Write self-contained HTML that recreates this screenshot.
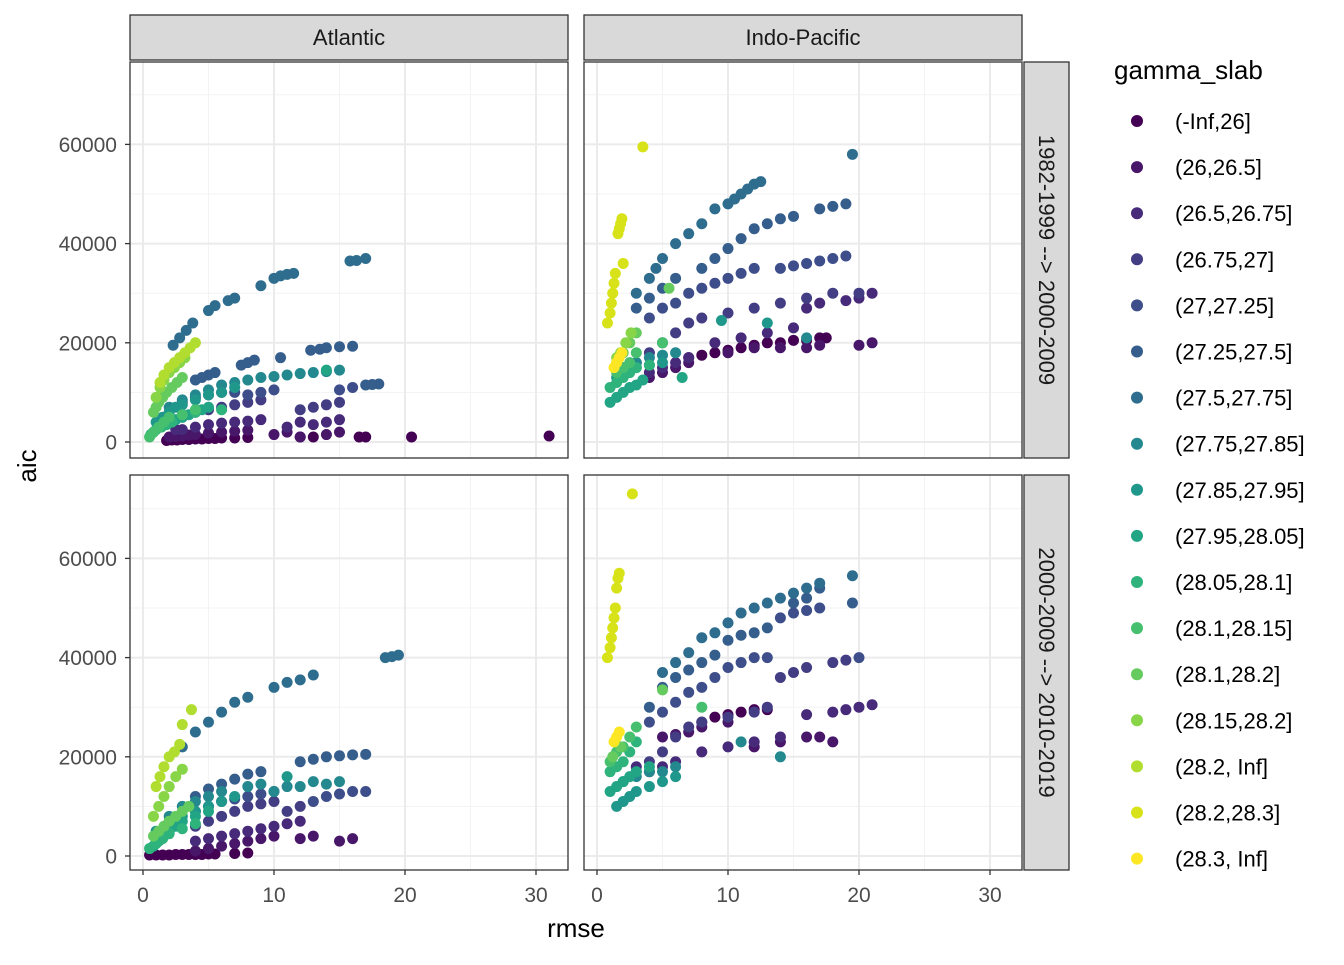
<!DOCTYPE html>
<html><head><meta charset="utf-8"><style>
body{margin:0;background:#fff;}
svg text{font-family:"Liberation Sans",sans-serif;}
</style></head><body>
<svg id="chart" width="1344" height="960" xmlns="http://www.w3.org/2000/svg"></svg>
<script>
const levelLabels=["(-Inf,26]","(26,26.5]","(26.5,26.75]","(26.75,27]","(27,27.25]","(27.25,27.5]","(27.5,27.75]","(27.75,27.85]","(27.85,27.95]","(27.95,28.05]","(28.05,28.1]","(28.1,28.15]","(28.1,28.2]","(28.15,28.2]","(28.2, Inf]","(28.2,28.3]","(28.3, Inf]"];
const levelColors=["#440154","#481769","#472A7A","#433D84","#3D4E8A","#355E8D","#2E6D8E","#297B8E","#23898E","#1F978B","#21A585","#2EB37C","#46C06F","#65CB5E","#89D548","#B0DD2F","#D8E219","#FDE725"];
const xTicks=[0,10,20,30];
const yTicks=[0,20000,40000,60000];
const atlTop=[
[0,[1.8,2.2,2.6,3,3.5,4,4.5,5,5.5,6,7,8,12,13,16.5,17,20.5,31],[300,400,400,500,500,600,600,700,700,800,800,900,1000,1000,1000,1000,1000,1200]],
[1,[2,2.5,3,3.5,4,5,6,7,8,10,11,12,14,15],[1000,1100,1200,1400,1500,1800,2000,2200,2400,1500,2000,1000,1500,2000]],
[2,[2.5,3,4,5,6,7,8,9,11,12,13,14,15],[2500,2500,3000,3500,3800,4000,4200,4500,3000,4000,3500,4000,4500]],
[3,[3,4,5,6,7,8,9,12,13,14,15],[5000,6000,6500,7000,7500,8000,8500,6500,7000,7500,8000]],
[4,[3,4,5,6,7,8,9,10,15,16],[8000,9000,9500,10000,10000,9500,10000,10500,10500,11000]],
[5,[4,4.5,5,5.5,7.5,8,8.5,10.5,12.8,13.5,14,15,16,17,17.5,18],[12500,13000,13500,14000,15500,16000,16500,17000,18500,18700,19000,19200,19300,11500,11600,11700]],
[6,[2.3,2.8,3.3,3.8,5,5.5,6.5,7,9,10,10.5,11,11.5,15.8,16.3,17],[19500,21000,22500,24000,26500,27500,28500,29000,31500,33000,33500,33800,34000,36500,36600,37000]],
[8,[2,3,4,5,6,7,8,9,10,11,12,13,14,15],[7000,8500,9500,10500,11500,12000,12500,13000,13200,13500,13800,14000,14200,14500]],
[9,[1,1.5,2,2.5,3,4,5,6,7],[4000,5000,6000,7000,7500,8500,9500,10000,11000]],
[10,[0.8,1.2,1.6,2,2.5,3,3.5,4,4.5,5,14],[2000,3000,3500,4000,4500,5000,5500,6000,6500,7000,14500]],
[11,[0.6,1,1.4,1.8,2.2,4,6],[1500,2500,3000,3500,4000,6000,6500]],
[12,[0.5,0.8,1.2,1.6,2,3,4],[1000,2000,3000,4000,5000,5500,6500]],
[13,[0.8,1,1.2,1.5,1.8,2.2,2.6,3],[6000,7000,8000,9000,10000,11000,12000,13000]],
[14,[1,1.3,1.6,2,2.4,2.8,3.2],[9000,11000,12500,14000,15000,16000,17000]],
[15,[1.3,1.6,2,2.4,2.8,3.2,3.6,4],[12000,13500,15000,16000,17000,18000,19000,20000]]
];
const indTop=[
[0,[7,8,9,10,11,12,13,14,15,16,17,17.5],[17000,17500,18000,18500,19000,19500,20000,20000,20500,20500,21000,21000]],
[1,[4,5,6,7,10,12,14,16,17,20,21],[13000,14000,15000,16000,18000,19000,19000,19000,19500,19500,20000]],
[2,[4,5,6,7,9,11,13,15,16,17,19,20,21],[14000,15000,16000,17000,20000,21000,22000,23000,27000,28000,28500,29000,30000]],
[3,[3,4,5,6,7,8,10,12,14,16,18,20],[16000,18000,20000,22000,24000,25000,26000,27000,28000,29000,30000,30000]],
[4,[4,5,6,7,8,9,10,11,12,14,15,16,17,18,19],[25000,27000,28000,30000,31000,32000,33000,34000,35000,35000,35500,36000,36500,37000,37500]],
[5,[3,4,5,6,8,9,10,11,12,13,14,15,17,18,19],[27000,29000,31000,33000,35000,37000,39000,41000,43000,44000,45000,45500,47000,47500,48000]],
[6,[3,4,4.5,5,6,7,8,9,10,10.5,11,11.5,12,12.5,19.5],[30000,33000,35000,37000,40000,42000,44000,47000,48000,49000,50000,51000,52000,52500,58000]],
[8,[2,3,4,5,6,16],[15000,16000,17000,17500,18000,21000]],
[9,[1.5,2,2.5,3,4,5,9.5,13],[13000,14000,14500,15000,15500,16000,24500,24000]],
[10,[1,1.5,2,2.5,3,3.5,6.5],[8000,9000,10000,11000,11500,12500,13000]],
[11,[1,1.5,2,2.5,3,4],[11000,12000,13000,14000,15000,15500]],
[12,[1.5,2,2.5,3,5],[14000,15000,16000,18000,20000]],
[13,[1.5,2,2.5,3,5.5],[16000,18000,20000,22000,31000]],
[14,[1.5,1.8,2.2,2.6],[17000,18000,20000,22000]],
[16,[0.8,1,1.1,1.2,1.3,1.4,1.6,1.7,1.8,1.9,2,3.5],[24000,26000,28000,30000,32000,34000,42000,43000,44000,45000,36000,59500]],
[17,[1.3,1.5,1.7,1.9],[15000,16000,17000,18000]]
];
const atlBot=[
[0,[0.5,1,1.5,2,2.5,3,3.5,4,4.5,5,5.5,7,8],[200,200,200,200,300,300,300,300,300,400,400,500,600]],
[1,[4,5,6,7,8,9,10,12,13,15,16],[1000,1500,2000,2500,3000,3500,4000,3500,4000,3000,3500]],
[2,[4,5,6,7,8,9,10,11,12],[3000,3500,4000,4500,5000,5500,6000,6500,7000]],
[3,[4,5,6,7,8,9,10,11,12],[6000,7000,8000,9000,10000,10500,11000,9000,10000]],
[4,[4,5,6,7,8,9,10,13,14,15,16,17],[9000,10000,11000,11500,12000,12500,13000,11000,12000,12500,13000,13000]],
[5,[4,5,6,7,8,9,12,13,14,15,16,17],[12000,13500,14500,15500,16500,17000,19000,19500,20000,20200,20400,20500]],
[6,[3,4,5,6,7,8,10,11,12,13,18.5,19,19.5],[22000,25000,27000,29000,31000,32000,34000,35000,35500,36500,40000,40200,40500]],
[8,[2,3,4,5,6,8,9,10,11,12,13,14,15],[8000,10000,11000,12000,13000,14000,14500,13000,14000,14000,15000,14500,15000]],
[9,[1,2,3,4,5,6,7,11],[5000,7000,8000,9000,10000,11000,12000,16000]],
[10,[0.8,1.2,1.6,2,2.5,3,4,5],[2000,3000,4000,5000,6000,7000,8000,9000]],
[11,[0.5,1,1.5,2,3,4],[1500,2500,3500,4500,5500,6500]],
[13,[0.8,1.2,1.6,2,2.5,3,3.5],[4000,5000,6000,7000,8000,9000,10000]],
[14,[0.8,1.2,1.6,2,2.5,3],[8000,10000,12000,14000,16000,17500]],
[15,[1,1.3,1.6,2,2.4,2.8,3,3.7],[14000,16000,18000,20000,21000,22500,26500,29500]]
];
const indBot=[
[0,[8,9,10,11,12,13],[27000,28000,28500,29000,29500,29500]],
[1,[5,6,7,8,10,12,14,16,17,18],[24000,24500,25000,26000,27000,22000,23000,24000,24000,23000]],
[2,[3,4,5,6,8,10,12,14,16,18,19,20,21],[18000,17000,18000,19000,21000,22000,23000,24000,28500,29000,29500,30000,30500]],
[3,[3,4,5,6,7,8,10,12,13,14,15,16,18,19],[17000,19000,21000,24000,26000,27000,28000,29000,30000,36000,37000,38000,39000,39500]],
[4,[4,5,6,7,8,9,10,11,12,13,14,15,16,17,20],[27000,29000,31000,33000,34000,36000,38000,39000,40000,40000,48000,49000,49500,50000,40000]],
[5,[4,5,6,7,8,9,10,11,12,13,15,16,17,19.5],[30000,34000,36000,37500,39000,40500,43500,44500,45000,46000,51000,52000,54000,51000]],
[6,[5,6,7,8,9,10,11,12,13,14,15,16,17,19.5],[37000,39000,41000,44000,45000,47000,49000,50000,51000,52000,53000,54000,55000,56500]],
[8,[2,3,4,5,6,11,14],[15000,16000,17000,17000,18000,23000,20000]],
[9,[1.5,2,2.5,3,4,5,6],[10000,11000,12000,13000,14000,15000,16000]],
[10,[1,1.5,2,2.5,3,4],[13000,14000,15000,16000,17000,18000]],
[11,[1,1.5,2,2.5,3],[17000,18000,19000,21000,23000]],
[12,[1,1.5,2,2.5,3,8],[19000,21000,22000,24000,26000,30000]],
[13,[1.2,1.8,5],[20000,22000,33500]],
[16,[0.8,1,1.1,1.2,1.3,1.4,1.5,1.6,1.7,2.7],[40000,42000,44000,46000,48000,50000,54000,56000,57000,73000]],
[17,[1.3,1.5,1.7],[23000,24000,25000]]
];
const NS="http://www.w3.org/2000/svg";
const svg=document.getElementById('chart');
function mk(tag,attrs,parent){const e=document.createElementNS(NS,tag);for(const k in attrs)e.setAttribute(k,attrs[k]);(parent||svg).appendChild(e);return e;}
const panels=[
 {name:'atlantic-top',x0:130,x1:568,y0:62,y1:458,xz:143,yz:442,data:atlTop,left:true,bottom:false},
 {name:'indo-pacific-top',x0:584,x1:1022,y0:62,y1:458,xz:597,yz:442,data:indTop,left:false,bottom:false},
 {name:'atlantic-bottom',x0:130,x1:568,y0:475,y1:870,xz:143,yz:856,data:atlBot,left:true,bottom:true},
 {name:'indo-pacific-bottom',x0:584,x1:1022,y0:475,y1:870,xz:597,yz:856,data:indBot,left:false,bottom:true}
];
const XS=13.1, YS=99.2/20000;
panels.forEach(p=>{
 const g=mk('g',{});
 
 
 const xf=v=>p.xz+v*XS, yf=v=>p.yz-v*YS;
 mk('rect',{x:p.x0,y:p.y0,width:p.x1-p.x0,height:p.y1-p.y0,fill:'#fff'},g);
 [5,15,25].forEach(v=>mk('line',{x1:xf(v),x2:xf(v),y1:p.y0,y2:p.y1,stroke:'#F3F3F3','stroke-width':1},g));
 [10000,30000,50000,70000].forEach(v=>mk('line',{x1:p.x0,x2:p.x1,y1:yf(v),y2:yf(v),stroke:'#F3F3F3','stroke-width':1},g));
 xTicks.forEach(v=>mk('line',{x1:xf(v),x2:xf(v),y1:p.y0,y2:p.y1,stroke:'#EBEBEB','stroke-width':2},g));
 yTicks.forEach(v=>mk('line',{x1:p.x0,x2:p.x1,y1:yf(v),y2:yf(v),stroke:'#EBEBEB','stroke-width':2},g));
 p.data.forEach(s=>{
  const lv=s[0];
  s[1].forEach((xv,i)=>{
   const c=mk('circle',{cx:xf(xv),cy:yf(s[2][i]),r:5.5,fill:levelColors[lv]},g);
   
   
  });
 });
 mk('rect',{x:p.x0,y:p.y0,width:p.x1-p.x0,height:p.y1-p.y0,fill:'none',stroke:'#333','stroke-width':1.3},g);
 if(p.left){yTicks.forEach(v=>{
  mk('line',{x1:p.x0-5,x2:p.x0,y1:yf(v),y2:yf(v),stroke:'#333','stroke-width':1.3},g);
  const t=mk('text',{x:p.x0-13,y:yf(v)+7.5,'text-anchor':'end','font-size':21,fill:'#4D4D4D'},g);t.textContent=v;
  
 });}
 if(p.bottom){xTicks.forEach(v=>{
  mk('line',{x1:xf(v),x2:xf(v),y1:p.y1,y2:p.y1+5,stroke:'#333','stroke-width':1.3},g);
  const t=mk('text',{x:xf(v),y:p.y1+32,'text-anchor':'middle','font-size':21,fill:'#4D4D4D'},g);t.textContent=v;
  
 });}
});
[['Atlantic',130,568],['Indo-Pacific',584,1022]].forEach(s=>{
 const r=mk('rect',{x:s[1],y:15,width:s[2]-s[1],height:45,fill:'#D9D9D9',stroke:'#333','stroke-width':1.3});
 
 const t=mk('text',{x:(s[1]+s[2])/2,y:45,'text-anchor':'middle','font-size':22,fill:'#1A1A1A'});t.textContent=s[0];
 
});
[['1982-1999 --> 2000-2009',62,458],['2000-2009 --> 2010-2019',475,870]].forEach(s=>{
 const r=mk('rect',{x:1024,y:s[1],width:45,height:s[2]-s[1],fill:'#D9D9D9',stroke:'#333','stroke-width':1.3});
 
 const cy=(s[1]+s[2])/2;
 const t=mk('text',{x:1039,y:cy,'text-anchor':'middle','font-size':22,fill:'#1A1A1A',transform:`rotate(90 1039 ${cy})`});t.textContent=s[0];
 
});
let t=mk('text',{x:576,y:937,'text-anchor':'middle','font-size':26,fill:'#000'});t.textContent='rmse';

t=mk('text',{x:36,y:466,'text-anchor':'middle','font-size':26,fill:'#000',transform:'rotate(-90 36 466)'});t.textContent='aic';

t=mk('text',{x:1114,y:79,'font-size':26,fill:'#000'});t.textContent='gamma_slab';

const legendShown=[0,1,2,3,4,5,6,8,9,10,11,12,13,14,15,16,17];
legendShown.forEach((lv,i)=>{
 const y=121+i*46.1;
 const c=mk('circle',{cx:1137,cy:y,r:6,fill:levelColors[lv]});
 
 const tx=mk('text',{x:1175,y:y+8,'font-size':22,fill:'#000'});tx.textContent=levelLabels[i];
 
});
</script>
</body></html>
